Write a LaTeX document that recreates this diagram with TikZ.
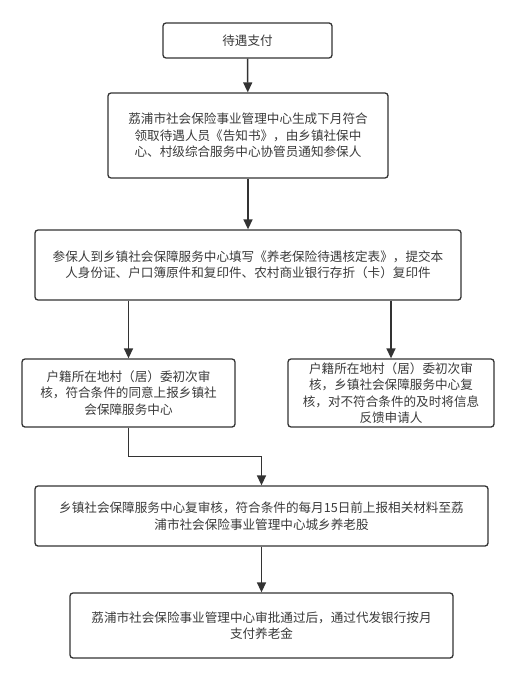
\documentclass[tikz,border=0pt]{standalone}
\usepackage{fontspec}
\newfontfamily\cjk{Noto Sans CJK SC}
\usepackage{tikz}
\usetikzlibrary{arrows.meta}
\usepackage{xcolor}
\definecolor{linea}{HTML}{333333}
\definecolor{texto}{HTML}{3A3A3A}

\begin{document}
\begin{tikzpicture}[x=1pt,y=-1pt,>={Triangle[length=10pt,width=9pt]},
  caja/.style={draw=linea,line width=1.3pt,rounded corners=3pt,fill=white,
    inner sep=0pt,align=center,text=texto,
    font=\cjk\fontsize{12.6}{16.5}\selectfont},
  flecha/.style={->,draw=linea,line width=1.5pt}]
  % Ventana
  \useasboundingbox[fill=white] (0,0) rectangle (517,682);

  % Cajas
  \node[caja,minimum width=169pt,minimum height=35pt] (pago) at (247.5,40.5) {待遇支付};
  \node[caja,minimum width=280pt,minimum height=85pt] (aviso) at (248,135.5)
    {荔浦市社会保险事业管理中心生成下月符合\\领取待遇人员《告知书》，由乡镇社保中\\心、村级综合服务中心协管员通知参保人};
  \node[caja,minimum width=426pt,minimum height=70pt] (tabla) at (248,265)
    {参保人到乡镇社会保障服务中心填写《养老保险待遇核定表》，提交本\\人身份证、户口簿原件和复印件、农村商业银行存折（卡）复印件};
  \node[caja,minimum width=213pt,minimum height=68pt] (aprueba) at (128.5,393)
    {户籍所在地村（居）委初次审\\核，符合条件的同意上报乡镇社\\会保障服务中心};
  \node[caja,minimum width=206pt,minimum height=68pt] (rechaza) at (391,393)
    {户籍所在地村（居）委初次审\\核，乡镇社会保障服务中心复\\核，对不符合条件的及时将信息\\反馈申请人};
  \node[caja,minimum width=453pt,minimum height=60pt] (revisa) at (261.5,516)
    {乡镇社会保障服务中心复审核，符合条件的每月15日前上报相关材料至荔\\浦市社会保险事业管理中心城乡养老股};
  \node[caja,minimum width=383pt,minimum height=65pt] (paga) at (261.5,625.5)
    {荔浦市社会保险事业管理中心审批通过后，通过代发银行按月\\支付养老金};

  % Flechas
  \draw[flecha] (pago) -- (aviso);
  \draw[flecha] (aviso) -- (tabla);
  \draw[flecha] (tabla.south -| aprueba.north) -- (aprueba.north);
  \draw[flecha] (tabla.south -| rechaza.north) -- (rechaza.north);
  \draw[flecha] (aprueba.south) -- ++(0,29) -| (revisa.north);
  \draw[flecha] (revisa) -- (paga);
\end{tikzpicture}
\end{document}
